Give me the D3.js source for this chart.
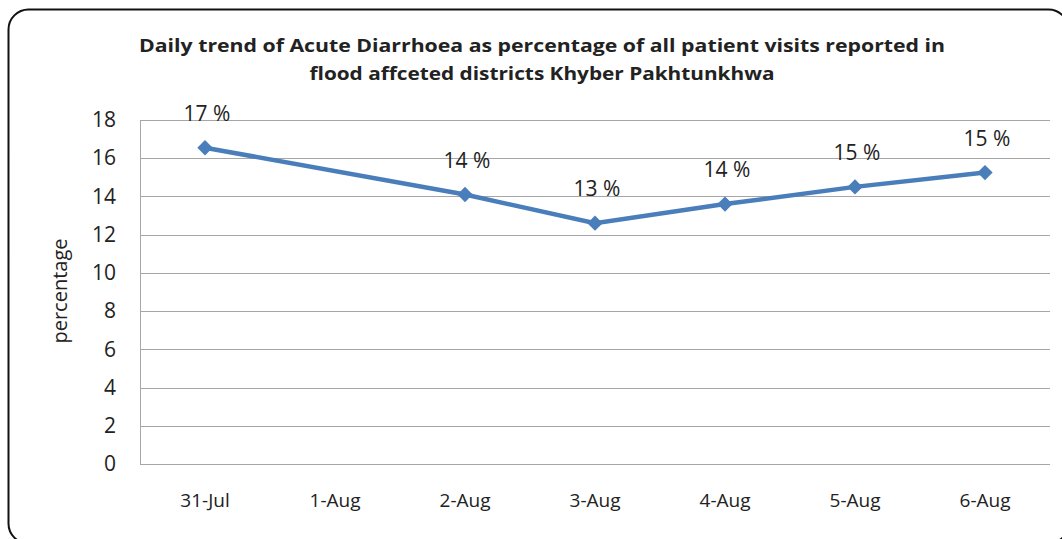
<!DOCTYPE html>
<html>
<head>
<meta charset="utf-8">
<script src="https://d3js.org/d3.v7.min.js"></script>
<style>
body { margin: 0; background: #fff; }
svg text { font-family: "Liberation Sans", "DejaVu Sans", sans-serif; fill: #222; }
.grid line { stroke: #a6a6a6; stroke-width: 1; }
path.line { fill: none; stroke: #4a7ebb; stroke-width: 4.5; }
</style>
</head>
<body>
<div id="chart"></div>
<script>
// data
var days = ["31-Jul", "1-Aug", "2-Aug", "3-Aug", "4-Aug", "5-Aug", "6-Aug"];
var values = [16.55, null, 14.1, 12.6, 13.6, 14.5, 15.25];
var labels = ["17 %", "", "14 %", "13 %", "14 %", "15 %", "15 %"];
var yTicks = [0, 2, 4, 6, 8, 10, 12, 14, 16, 18];
var titleLines = ["Daily trend of Acute Diarrhoea as percentage of all patient visits reported in",
                  "flood affceted districts Khyber Pakhtunkhwa"];

var W = 1062, H = 539;
var margin = {top: 120, right: 12, bottom: 75, left: 140};
var width = W - margin.left - margin.right,
    height = H - margin.top - margin.bottom;

var svg = d3.select("#chart").append("svg")
    .attr("width", W).attr("height", H);

// outer frame, runs off the right and bottom edge
svg.append("rect")
    .attr("x", 8.5).attr("y", 9.5)
    .attr("width", 1060).attr("height", 534)
    .attr("rx", 20).attr("ry", 20)
    .attr("fill", "none").attr("stroke", "#111").attr("stroke-width", 2);

svg.selectAll("text.title")
    .data(titleLines)
    .enter().append("text")
    .attr("class", "title")
    .attr("x", 542)
    .attr("y", function(d, i) { return 52 + i * 28; })
    .attr("text-anchor", "middle")
    .style("font-weight", "bold")
    .style("font-size", "18px")
    .style("font-family", "'Open Sans', sans-serif")
    .attr("textLength", function(d, i) { return i == 0 ? 806 : 465; })
    .attr("lengthAdjust", "spacingAndGlyphs")
    .text(function(d) { return d; });

var g = svg.append("g")
    .attr("transform", "translate(" + margin.left + "," + margin.top + ")");

var x = d3.scaleBand().domain(days).range([0, width]);
var y = d3.scaleLinear().domain([0, 18]).range([height, 0]);

// gridlines
g.append("g").attr("class", "grid")
    .selectAll("line")
    .data(yTicks)
    .enter().append("line")
    .attr("x1", 0).attr("x2", width)
    .attr("y1", function(d) { return Math.round(y(d)) + 0.5; })
    .attr("y2", function(d) { return Math.round(y(d)) + 0.5; });

g.append("line")
    .attr("x1", 0.5).attr("x2", 0.5)
    .attr("y1", 0).attr("y2", height)
    .attr("stroke", "#a6a6a6");

var yAxis = d3.axisLeft(y).tickValues(yTicks).tickSize(0).tickPadding(24);
var ya = g.append("g").call(yAxis);
ya.select(".domain").remove();
ya.selectAll("text").style("font-size", "21px").style("font-family", "'Open Sans', sans-serif").attr("fill", "#222");

var xAxis = d3.axisBottom(x).tickSize(0).tickPadding(30);
var xa = g.append("g").attr("transform", "translate(0," + height + ")").call(xAxis);
xa.select(".domain").remove();
xa.selectAll("text").style("font-size", "19px").style("font-family", "'Open Sans', sans-serif").attr("fill", "#222");

svg.append("text")
    .attr("transform", "translate(67,291) rotate(-90)")
    .attr("text-anchor", "middle")
    .style("font-size", "20px")
    .style("font-family", "'Open Sans', sans-serif")
    .text("percentage");

var pts = days.map(function(d, i) { return {day: d, v: values[i], lab: labels[i]}; })
    .filter(function(p) { return p.v != null; });

var line = d3.line()
    .x(function(p) { return x(p.day) + x.bandwidth() / 2; })
    .y(function(p) { return y(p.v); });

g.append("path").datum(pts).attr("class", "line").attr("d", line);

g.selectAll("path.mark")
    .data(pts)
    .enter().append("path")
    .attr("class", "mark")
    .attr("d", d3.symbol().type(d3.symbolDiamond2).size(150))
    .attr("transform", function(p) {
        return "translate(" + (x(p.day) + x.bandwidth() / 2) + "," + y(p.v) + ")";
    })
    .attr("fill", "#4a7ebb");

g.selectAll("text.lab")
    .data(pts)
    .enter().append("text")
    .attr("class", "lab")
    .attr("x", function(p) { return x(p.day) + x.bandwidth() / 2 + 2; })
    .attr("y", function(p) { return y(p.v) - 27; })
    .attr("text-anchor", "middle")
    .style("font-size", "21px")
    .style("font-family", "'Open Sans', sans-serif")
    .text(function(p) { return p.lab; });
</script>
</body>
</html>
